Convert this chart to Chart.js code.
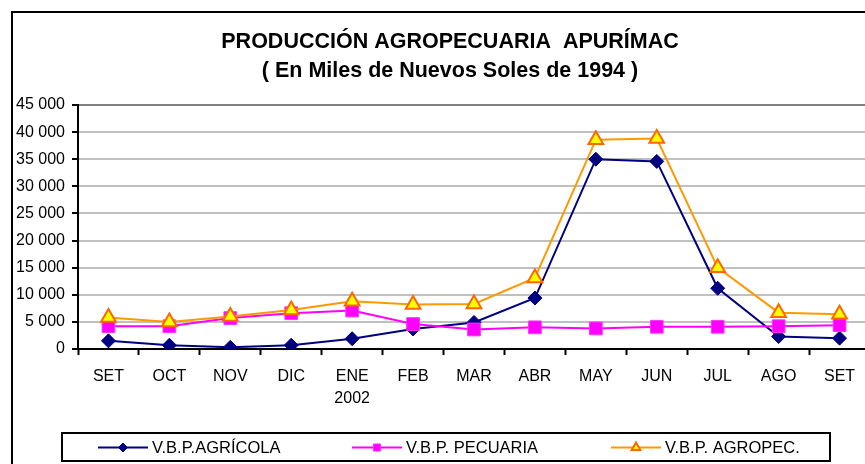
<!DOCTYPE html>
<html><head><meta charset="utf-8">
<script src="https://cdn.jsdelivr.net/npm/chart.js@4/dist/chart.umd.min.js"></script>
<style>html,body{margin:0;padding:0;background:#fff;overflow:hidden}
#wrap{position:relative;width:900px;height:470px}</style></head>
<body><div id="wrap"><canvas id="c" width="900" height="470"></canvas></div>
<script>
const categories = ['SET','OCT','NOV','DIC',['ENE','2002'],'FEB','MAR','ABR','MAY','JUN','JUL','AGO','SET'];
const agricola = [1500, 700, 300, 700, 1900, 3700, 4900, 9400, 35000, 34600, 11200, 2300, 2000];
const pecuaria = [4200, 4200, 5700, 6600, 7100, 4600, 3600, 4000, 3800, 4100, 4100, 4200, 4400];
const agropec  = [5800, 5000, 6000, 7200, 8800, 8200, 8300, 13100, 38600, 38800, 15000, 6700, 6400];
const seriesNames = ['V.B.P.AGRÍCOLA', 'V.B.P. PECUARIA', 'V.B.P. AGROPEC.'];
const titleLines = ['PRODUCCIÓN AGROPECUARIA  APURÍMAC', '( En Miles de Nuevos Soles de 1994 )'];
const yMin = 0, yMax = 45000, yStep = 5000;

const FONT = '"Liberation Sans", Arial, sans-serif';
Chart.defaults.font.family = FONT;
Chart.defaults.color = '#000';

const frame = {
  id: 'frame',
  beforeDraw(chart) {
    const ctx = chart.ctx;
    ctx.save();
    ctx.fillStyle = '#fff';
    ctx.fillRect(0, 0, chart.width, chart.height);
    ctx.strokeStyle = '#000';
    ctx.lineWidth = 2;
    ctx.strokeRect(12, 12, 876, 500);
    ctx.restore();
  }
};

const customLegend = {
  id: 'customLegend',
  afterDraw(chart) {
    const ctx = chart.ctx;
    ctx.save();
    ctx.strokeStyle = '#000';
    ctx.lineWidth = 2;
    ctx.strokeRect(62, 433, 768, 28);
    const starts = [98, 352, 611];
    const y = 447.5;
    chart.data.datasets.forEach((ds, i) => {
      const x0 = starts[i];
      ctx.strokeStyle = ds.borderColor;
      ctx.lineWidth = 2;
      ctx.beginPath();
      ctx.moveTo(x0, y);
      ctx.lineTo(x0 + 50, y);
      ctx.stroke();
      ctx.fillStyle = ds.pointBackgroundColor;
      ctx.strokeStyle = ds.pointBorderColor;
      ctx.lineWidth = ds.legendPointBorder;
      Chart.helpers.drawPoint(ctx, {pointStyle: ds.pointStyle, radius: ds.legendRadius, rotation: 0, borderWidth: ds.legendPointBorder}, x0 + 25, y);
      ctx.fillStyle = '#000';
      ctx.font = '16.5px ' + FONT;
      ctx.textBaseline = 'middle';
      ctx.textAlign = 'left';
      ctx.fillText(ds.label, x0 + 54, 448.5);
    });
    ctx.restore();
  }
};

new Chart(document.getElementById('c'), {
  type: 'line',
  data: {
    labels: categories,
    datasets: [
      {label: seriesNames[0], data: agricola, order: 2, borderColor: '#000080', backgroundColor: '#000080',
       borderWidth: 2, pointStyle: 'rectRot', pointRadius: 7, pointHoverRadius: 7,
       pointBackgroundColor: '#000080', pointBorderColor: '#000080', pointBorderWidth: 1,
       legendRadius: 4.5, legendPointBorder: 1},
      {label: seriesNames[1], data: pecuaria, order: 1, borderColor: '#FF00FF', backgroundColor: '#FF00FF',
       borderWidth: 2, pointStyle: 'rect', pointRadius: 9, pointHoverRadius: 9,
       pointBackgroundColor: '#FF00FF', pointBorderColor: '#FF33FF', pointBorderWidth: 1,
       legendRadius: 5, legendPointBorder: 1},
      {label: seriesNames[2], data: agropec, order: 0, borderColor: '#FF9900', backgroundColor: '#FFFF00',
       borderWidth: 2, pointStyle: 'triangle', pointRadius: 8.5, pointHoverRadius: 8.5,
       pointBackgroundColor: '#FFFF00', pointBorderColor: '#FF6600', pointBorderWidth: 2,
       legendRadius: 5, legendPointBorder: 2}
    ]
  },
  options: {
    responsive: false,
    animation: false,
    devicePixelRatio: 1,
    layout: {padding: {left: 12, right: 12, top: 0, bottom: 61}},
    plugins: {
      legend: {display: false},
      tooltip: {enabled: false},
      title: {
        display: true,
        text: titleLines,
        color: '#000',
        font: {size: 21.5, weight: 'bold', lineHeight: '29px'},
        padding: {top: 28, bottom: 19}
      }
    },
    scales: {
      x: {
        type: 'category',
        offset: true,
        afterFit(s) { s.height = 60; },
        grid: {display: true, drawOnChartArea: false, drawTicks: true, tickLength: 6, tickColor: '#000', tickWidth: 2, offset: true},
        border: {display: true, color: '#000', width: 2},
        ticks: {color: '#000', font: {size: 16, lineHeight: '22px'}, padding: 11, maxRotation: 0, autoSkip: false}
      },
      y: {
        min: yMin, max: yMax,
        afterFit(s) { s.width = 66; },
        grid: {
          color: (c) => (c.tick && c.tick.value === yMax) ? '#808080' : '#c0c0c0',
          lineWidth: 2, tickLength: 6, tickColor: '#000', tickWidth: 2
        },
        border: {display: true, color: '#000', width: 2},
        ticks: {
          stepSize: yStep, color: '#000', padding: 7, font: {size: 16},
          callback: (v) => String(v).replace(/\B(?=(\d{3})+(?!\d))/g, ' ')
        }
      },
      y2: {
        position: 'right',
        afterFit(s) { s.width = 18; },
        grid: {display: false, drawTicks: false},
        border: {display: false},
        ticks: {display: false}
      }
    }
  },
  plugins: [frame, customLegend]
});
</script>
</body></html>
